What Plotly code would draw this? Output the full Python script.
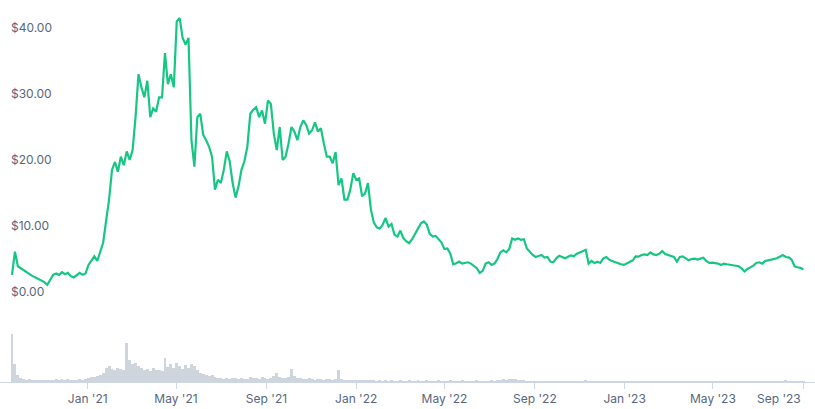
import pandas as pd
import plotly.graph_objects as go

start_date = "2020-09-20"
step = "4D"

price = [
    2.6, 6.1, 3.9, 3.6, 3.2, 2.9, 2.6, 2.4, 2.2, 2.0,
    1.8, 1.5, 1.1, 1.8, 2.6, 2.8, 2.6, 3.0, 2.7, 2.9,
    2.4, 2.2, 2.5, 2.9, 2.6, 2.8, 4.1, 4.8, 5.4, 4.7,
    6.0, 7.5, 10.8, 14.0, 18.5, 19.7, 18.2, 20.5, 19.2, 21.3,
    20.0, 21.5, 26.5, 33.0, 31.0, 29.5, 32.0, 26.5, 27.8, 27.3,
    29.5, 29.5, 36.2, 31.5, 33.0, 31.0, 41.0, 41.5, 38.5, 37.5,
    38.5, 23.0, 19.0, 26.5, 27.0, 23.8, 23.0, 22.0, 20.5, 15.5,
    17.0, 16.5, 18.5, 21.3, 19.8, 16.5, 14.3, 16.0, 18.5, 19.8,
    22.0, 27.0, 27.6, 28.0, 26.5, 27.5, 25.5, 29.0, 28.5, 24.0,
    21.5, 25.0, 20.0, 20.5, 22.5, 25.0, 24.3, 23.0, 25.0, 26.0,
    25.3, 24.0, 24.5, 25.7, 24.3, 24.8, 22.5, 20.5, 20.5, 19.5,
    21.2, 16.2, 17.2, 14.0, 14.0, 15.5, 18.0, 17.0, 17.2, 14.5,
    14.9, 16.5, 12.5, 10.5, 9.8, 9.6, 10.2, 11.2, 9.9, 10.3,
    8.7, 8.4, 9.3, 8.2, 7.7, 7.4, 8.0, 8.8, 9.5, 10.4,
    10.7, 10.2, 8.8, 8.4, 8.5, 8.0, 7.5, 6.5, 6.6, 5.8,
    4.2, 4.35, 4.6, 4.3, 4.4, 4.5, 4.3, 4.0, 3.6, 2.9,
    3.2, 4.3, 4.5, 4.1, 4.3, 5.0, 6.0, 6.3, 6.0, 6.5,
    8.1, 7.9, 8.1, 7.9, 8.0, 6.6, 6.1, 5.6, 5.3, 5.4,
    5.6, 5.2, 5.3, 4.6, 4.5, 5.1, 5.5, 5.3, 5.1, 5.35,
    5.55, 5.4, 5.8, 6.0, 6.2, 6.4, 4.3, 4.7, 4.4, 4.6,
    4.4, 5.1, 5.3, 4.9, 4.7, 4.5, 4.3, 4.2, 4.1, 4.35,
    4.6, 4.8, 5.4, 5.35, 5.6, 5.7, 5.6, 6.0, 5.7, 5.6,
    5.8, 6.2, 5.75, 5.6, 5.5, 5.3, 4.6, 5.3, 5.4, 5.1,
    4.8, 5.0, 5.05, 4.9, 5.1, 5.2, 4.7, 4.4, 4.45, 4.4,
    4.3, 4.1, 4.3, 4.2, 4.1, 4.05, 3.95, 3.9, 3.6, 3.1,
    3.5, 3.7, 4.0, 4.4, 4.5, 4.3, 4.7, 4.8, 4.9, 4.95,
    5.1, 5.35, 5.6, 5.3, 5.25, 4.9, 3.9, 3.75, 3.65, 3.4,
]

volume = [
    100, 38, 14, 9, 6, 5, 6, 5, 4, 5,
    4, 5, 4, 4, 5, 6, 5, 6, 5, 6,
    5, 4, 5, 6, 5, 7, 9, 11, 10, 12,
    14, 18, 30, 34, 28, 26, 30, 27, 24, 82,
    45, 38, 40, 34, 30, 25, 28, 22, 30, 24,
    26, 22, 50, 32, 38, 30, 40, 34, 28, 36,
    30, 38, 34, 24, 18, 16, 14, 12, 14, 10,
    8, 9, 7, 9, 7, 8, 9, 7, 8, 6,
    7, 10, 8, 9, 7, 10, 8, 7, 9, 12,
    19, 10, 8, 9, 10, 27, 12, 9, 8, 7,
    6, 8, 6, 5, 7, 6, 5, 7, 6, 5,
    6, 24, 7, 5, 4, 5, 4, 5, 4, 5,
    4, 4, 5, 4, 3, 4, 3, 4, 3, 4,
    3, 3, 4, 3, 3, 4, 3, 3, 4, 3,
    3, 4, 3, 3, 3, 4, 3, 3, 3, 4,
    3, 3, 3, 4, 3, 3, 3, 3, 4, 3,
    3, 3, 3, 4, 3, 4, 5, 6, 5, 7,
    6, 7, 5, 4, 4, 3, 3, 3, 3, 3,
    3, 3, 3, 3, 3, 3, 3, 3, 3, 3,
    3, 3, 3, 3, 3, 4, 3, 3, 3, 3,
    3, 3, 3, 3, 3, 3, 3, 3, 3, 3,
    3, 3, 3, 3, 3, 3, 3, 3, 3, 3,
    3, 3, 3, 3, 3, 3, 3, 3, 3, 3,
    3, 3, 3, 3, 3, 3, 3, 3, 3, 3,
    3, 3, 3, 3, 3, 3, 3, 3, 3, 3,
    3, 3, 3, 3, 3, 3, 3, 3, 3, 3,
    3, 3, 3, 4, 3, 3, 3, 3, 3, 3,
]

x_tick_dates = ["2021-01-01", "2021-05-01", "2021-09-01", "2022-01-01", "2022-05-01",
                "2022-09-01", "2023-01-01", "2023-05-01", "2023-09-01"]
x_tick_labels = ["Jan '21", "May '21", "Sep '21", "Jan '22", "May '22",
                 "Sep '22", "Jan '23", "May '23", "Sep '23"]
y_tick_vals = [0, 10, 20, 30, 40]
y_tick_labels = ["$0.00", "$10.00", "$20.00", "$30.00", "$40.00"]

dates = pd.date_range(start_date, periods=len(price), freq=step)

GREEN = "#16c784"
GREY_TEXT = "#58667e"
VOL = "#cfd5dd"
AXIS = "#cfd6e4"
FONT = "Inter, 'Open Sans', sans-serif"

fig = go.Figure()
fig.add_trace(go.Bar(
    x=dates, y=volume[:len(dates)], marker=dict(color=VOL, line=dict(width=0)),
    xaxis="x", yaxis="y2", hoverinfo="skip", showlegend=False,
))
fig.add_trace(go.Scatter(
    x=dates, y=price, mode="lines", line=dict(color=GREEN, width=2.2),
    xaxis="x", yaxis="y", showlegend=False,
))

# the last tick label sits to the left of its tick (clamped at the chart edge)
shown_ticktext = x_tick_labels[:-1] + [""]
fig.add_annotation(
    x=x_tick_dates[-1], xref="x", xanchor="right",
    y=0, yref="paper", yanchor="top", yshift=-7,
    text=x_tick_labels[-1], showarrow=False,
    font=dict(family=FONT, size=12, color=GREY_TEXT),
)

fig.update_layout(
    width=815, height=409,
    margin=dict(l=0, r=0, t=0, b=27),
    paper_bgcolor="white", plot_bgcolor="white",
    bargap=0,
    font=dict(family=FONT, size=12, color=GREY_TEXT),
    xaxis=dict(
        anchor="y2",
        range=["2020-09-03 17:00", "2023-09-16 19:00"],
        tickmode="array", tickvals=x_tick_dates, ticktext=shown_ticktext,
        ticks="outside", ticklen=6, tickcolor=AXIS, tickwidth=1,
        showgrid=False, zeroline=False,
        showline=True, linecolor=AXIS, linewidth=1,
        tickfont=dict(family=FONT, size=12, color=GREY_TEXT),
    ),
    yaxis=dict(
        domain=[0.2147, 1.0],
        range=[-1.212, 44.24],
        tickmode="array", tickvals=y_tick_vals, ticktext=y_tick_labels,
        ticklabelposition="inside", ticks="", ticklabelstandoff=8,
        showgrid=False, zeroline=False, showline=False,
        tickfont=dict(family=FONT, size=12, color=GREY_TEXT),
    ),
    yaxis2=dict(
        domain=[0.0, 0.1257],
        range=[0, 100],
        anchor="x",
        showticklabels=False, ticks="",
        showgrid=False, zeroline=False, showline=False,
    ),
)

fig.write_html("out.html")
